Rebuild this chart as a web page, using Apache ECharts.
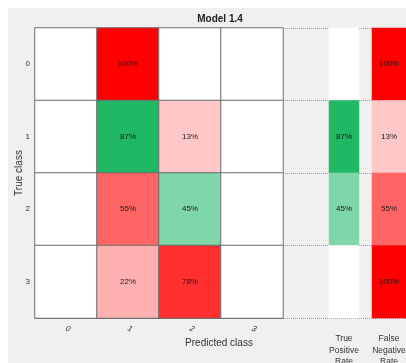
<!DOCTYPE html>
<html>
<head>
<meta charset="utf-8">
<script src="https://cdn.jsdelivr.net/npm/echarts@6/dist/echarts.min.js"></script>
<style>
html,body{margin:0;padding:0;background:#fff;}
#chart{width:406px;height:363px;}
</style>
</head>
<body>
<div id="chart"></div>
<script>
// Confusion matrix data (row = true class, column = predicted class, percent of row)
const classes = ['0', '1', '2', '3'];
const matrix = [
  [0, 100, 0, 0],
  [0, 87, 13, 0],
  [0, 55, 45, 0],
  [0, 22, 78, 0]
];
const truePositiveRate = [0, 87, 45, 0];
const falseNegativeRate = [100, 13, 55, 100];
const rateLabels = ['True\nPositive\nRate', 'False\nNegative\nRate'];
const chartTitle = 'Model 1.4';
const xName = 'Predicted class';
const yName = 'True class';

// Colour ramps: white -> red for errors, white -> green for correct predictions
const redRamp = [[0, [255, 255, 255]], [12.5, [255, 200, 200]], [25, [255, 170, 170]], [37.5, [255, 140, 140]],
  [50, [255, 112, 112]], [62.5, [255, 84, 84]], [75, [255, 54, 54]], [87.5, [255, 26, 26]], [100, [255, 0, 0]]];
const greenRamp = [[0, [255, 255, 255]], [45, [127, 214, 168]], [87, [32, 184, 100]], [100, [0, 170, 82]]];

function rampColor(ramp, v) {
  for (let i = 1; i < ramp.length; i++) {
    if (v <= ramp[i][0]) {
      const a = ramp[i - 1], b = ramp[i];
      const t = (v - a[0]) / (b[0] - a[0]);
      const c = a[1].map((x, k) => Math.round(x + (b[1][k] - x) * t));
      return 'rgb(' + c.join(',') + ')';
    }
  }
  const last = ramp[ramp.length - 1][1];
  return 'rgb(' + last.join(',') + ')';
}

const FONT = 'Liberation Sans, Arial, sans-serif';
const pctLabel = {
  show: true, fontSize: 8, color: '#1a1a1a', fontFamily: FONT,
  formatter: p => (p.value[2] ? p.value[2] + '%' : '')
};

const matrixData = [];
matrix.forEach((row, r) => row.forEach((v, c) => {
  const ramp = r === c ? greenRamp : redRamp;
  matrixData.push({ value: [c, r, v], itemStyle: { color: rampColor(ramp, v) } });
}));
const tprData = truePositiveRate.map((v, r) => ({ value: [0, r, v], itemStyle: { color: rampColor(greenRamp, v) } }));
const fnrData = falseNegativeRate.map((v, r) => ({ value: [0, r, v], itemStyle: { color: rampColor(redRamp, v) } }));

const chart = echarts.init(document.getElementById('chart'), null, { renderer: 'canvas' });

const hiddenCat = (gi, data) => ({
  type: 'category', gridIndex: gi, data: data, inverse: true,
  axisLine: { show: false }, axisTick: { show: false }, axisLabel: { show: false }, splitLine: { show: false }
});

const gridBase = { top: 28, height: 290, containLabel: false, outerBoundsMode: 'none' };

chart.setOption({
  backgroundColor: '#ffffff',
  animation: false,
  textStyle: { fontFamily: FONT },
  graphic: [
    { type: 'rect', z: -10, silent: true,
      shape: { x: 8, y: 8, width: 398, height: 355 },
      style: { fill: '#f0f0f0' } },
    { type: 'text', silent: true, x: 220, y: 19,
      style: { text: chartTitle, align: 'center', verticalAlign: 'middle',
        font: 'bold 10px ' + FONT, fill: '#222' } },
    { type: 'text', silent: true, x: 219, y: 343,
      style: { text: xName, align: 'center', verticalAlign: 'middle',
        font: '10px ' + FONT, fill: '#333' } },
    { type: 'text', silent: true, x: 19, y: 173, rotation: Math.PI / 2,
      style: { text: yName, align: 'center', verticalAlign: 'middle',
        font: '10px ' + FONT, fill: '#333' } }
  ],
  grid: [
    Object.assign({ left: 35, width: 248 }, gridBase),
    Object.assign({ left: 283, width: 123 }, gridBase),
    Object.assign({ left: 329, width: 30 }, gridBase),
    Object.assign({ left: 372, width: 34 }, gridBase)
  ],
  xAxis: [
    { type: 'category', gridIndex: 0, data: classes,
      axisLine: { show: true, lineStyle: { color: '#666', width: 1 } },
      axisTick: { show: false }, splitLine: { show: false },
      axisLabel: { rotate: -25, fontSize: 8, color: '#333', margin: 10, fontStyle: 'italic' } },
    { type: 'value', gridIndex: 1, show: false },
    { type: 'category', gridIndex: 2, data: [rateLabels[0]],
      axisLine: { show: false }, axisTick: { show: false }, splitLine: { show: false },
      axisLabel: { fontSize: 8.5, color: '#333', lineHeight: 11.5, margin: 15 } },
    { type: 'category', gridIndex: 3, data: [rateLabels[1]],
      axisLine: { show: false }, axisTick: { show: false }, splitLine: { show: false },
      axisLabel: { fontSize: 8.5, color: '#333', lineHeight: 11.5, margin: 15 } }
  ],
  yAxis: [
    { type: 'category', gridIndex: 0, data: classes, inverse: true,
      axisLine: { show: true, lineStyle: { color: '#666', width: 1 } },
      axisTick: { show: false }, splitLine: { show: false },
      axisLabel: { fontSize: 8, color: '#333', margin: 5 } },
    { type: 'value', gridIndex: 1, min: 0, max: 4, interval: 1, inverse: true,
      axisLine: { show: false }, axisTick: { show: false }, axisLabel: { show: false },
      splitLine: { show: true, lineStyle: { color: '#9a9a9a', type: [1, 1], width: 1 } } },
    hiddenCat(2, classes),
    hiddenCat(3, classes)
  ],
  series: [
    { type: 'heatmap', xAxisIndex: 0, yAxisIndex: 0, data: matrixData,
      label: pctLabel,
      itemStyle: { borderColor: '#6e6e6e', borderWidth: 1 },
      emphasis: { disabled: true } },
    { type: 'line', xAxisIndex: 1, yAxisIndex: 1, data: [], silent: true },
    { type: 'heatmap', xAxisIndex: 2, yAxisIndex: 2, data: tprData,
      label: pctLabel, emphasis: { disabled: true } },
    { type: 'heatmap', xAxisIndex: 3, yAxisIndex: 3, data: fnrData,
      label: pctLabel, emphasis: { disabled: true } }
  ]
});
</script>
</body>
</html>
